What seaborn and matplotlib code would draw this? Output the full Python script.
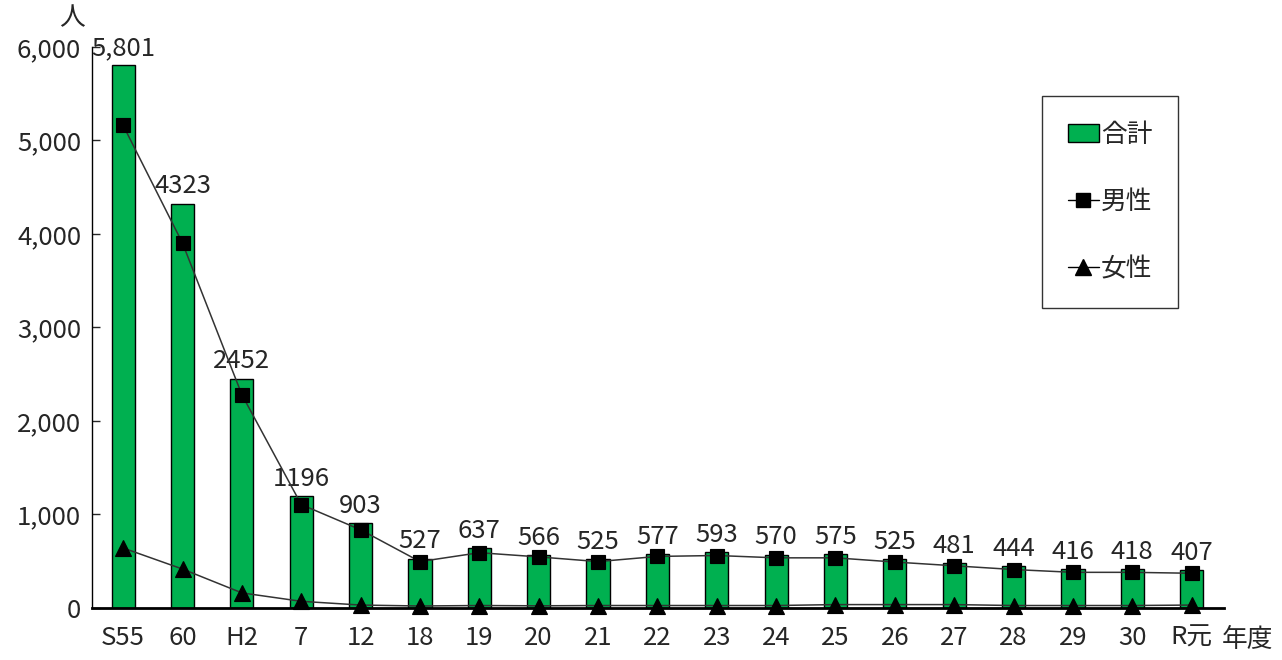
import pandas as pd
import seaborn as sns
import matplotlib.pyplot as plt
from matplotlib.lines import Line2D
from matplotlib.patches import Patch

# data
years = ['S55', '60', 'H2', '7', '12', '18', '19', '20', '21', '22',
         '23', '24', '25', '26', '27', '28', '29', '30', 'R元']
total = [5801, 4323, 2452, 1196, 903, 527, 637, 566, 525, 577,
         593, 570, 575, 525, 481, 444, 416, 418, 407]
male = [5160, 3900, 2280, 1105, 835, 495, 590, 545, 495, 550,
        560, 535, 535, 490, 450, 410, 380, 380, 370]
female = [640, 415, 160, 70, 30, 20, 25, 22, 25, 25,
          25, 25, 35, 35, 35, 25, 25, 25, 30]
total_labels = ['5,801'] + [str(v) for v in total[1:]]

df = pd.DataFrame({'year': years, 'total': total, 'male': male, 'female': female})

sns.set_style('white')
plt.rcParams['font.family'] = ['Noto Sans CJK JP', 'DejaVu Sans']
FS = 18.5

fig = plt.figure(figsize=(12.82, 6.6), dpi=100)
ax = fig.add_axes([0.072, 0.079, 0.883, 0.850])

sns.barplot(data=df, x='year', y='total', color='#00B050', width=0.39,
            edgecolor='black', linewidth=1, saturation=1, ax=ax)
sns.pointplot(data=df, x='year', y='male', color='black', markers='s',
              linewidth=1.1, markersize=10, ax=ax)
sns.pointplot(data=df, x='year', y='female', color='black', markers='^',
              linewidth=1.1, markersize=12, ax=ax)
for line in ax.lines:
    line.set_color('#333333')
    line.set_markerfacecolor('black')
    line.set_markeredgecolor('black')
    line.set_clip_on(False)
    line.set_zorder(5)

for i, lab in enumerate(total_labels):
    ax.annotate(lab, (i, total[i]), xytext=(0, 3), textcoords='offset points',
                ha='center', va='bottom', fontsize=FS)

ax.set_xlim(-0.52, 18.55)
ax.set_ylim(0, 6000)
ax.set_yticks(range(0, 6001, 1000))
ax.set_yticklabels([f'{v:,}' for v in range(0, 6001, 1000)], fontsize=FS)
ax.tick_params(axis='y', direction='in', length=6, width=1, left=True, pad=8)
ax.tick_params(axis='x', length=0, labelsize=FS, pad=12)
ax.set_xlabel('')
ax.set_ylabel('')
sns.despine(ax=ax)
ax.spines['left'].set_color('black')
ax.spines['left'].set_linewidth(1)
ax.spines['bottom'].set_color('black')
ax.spines['bottom'].set_linewidth(2)

fig.text(72 / 1282, 1 - 18 / 660, '人', fontsize=FS, ha='center', va='center')
fig.text(1248 / 1282, 1 - 640 / 660, '年度', fontsize=FS, ha='center', va='center')

handles = [
    Patch(facecolor='#00B050', edgecolor='black', linewidth=1),
    Line2D([], [], color='black', marker='s', markersize=10, linewidth=1),
    Line2D([], [], color='black', marker='^', markersize=12, linewidth=1),
]
leg = fig.legend(handles, ['合計', '男性', '女性'], loc='upper left',
                 bbox_to_anchor=(1042 / 1282, 1 - 96 / 660), fontsize=FS,
                 frameon=True, fancybox=False, edgecolor='black',
                 labelspacing=1.6, borderpad=1.0, handlelength=1.2,
                 handletextpad=0.1, borderaxespad=0)
leg.get_frame().set_linewidth(1)

fig.savefig('out.png', dpi=100)
